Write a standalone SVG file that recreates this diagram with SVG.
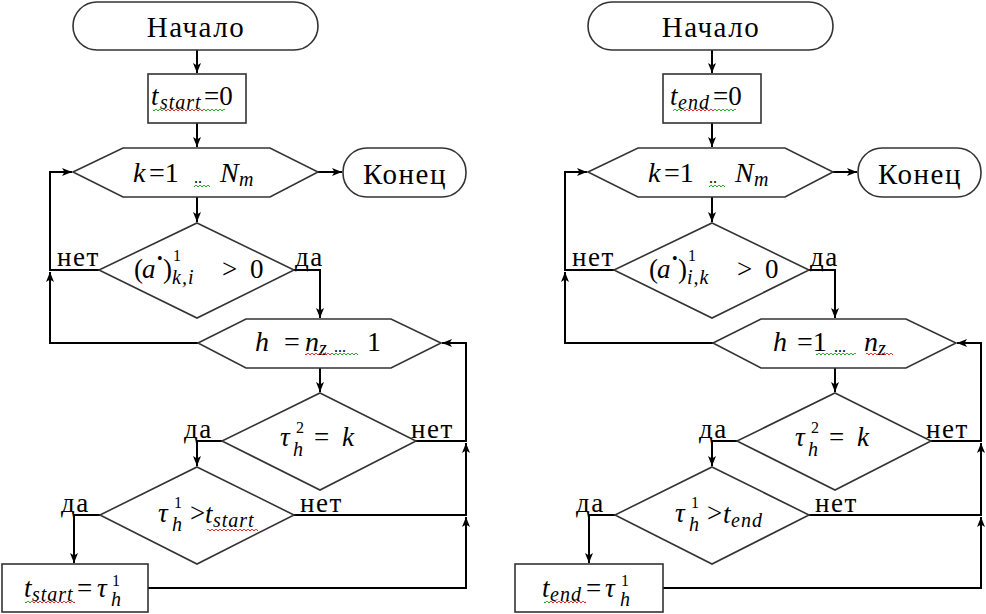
<svg xmlns="http://www.w3.org/2000/svg" width="986" height="614" viewBox="0 0 986 614">
<defs>
<marker id="ar" markerUnits="userSpaceOnUse" markerWidth="11" markerHeight="8" refX="10" refY="4" orient="auto">
<path d="M0,0 L10,4 L0,8 L2.5,4 z" fill="#000" stroke="none"/>
</marker>
<pattern id="wr" width="4" height="4" patternUnits="userSpaceOnUse"><path d="M0,0.8 L2,3 L4,0.8" fill="none" stroke="#e02020" stroke-width="1"/></pattern>
<pattern id="wg" width="4" height="4" patternUnits="userSpaceOnUse"><path d="M0,0.8 L2,3 L4,0.8" fill="none" stroke="#20a020" stroke-width="1"/></pattern>
<g id="chart-lines">
<path d="M197,50 V73"/>
<path d="M197,123 V147"/>
<path d="M318,172 H342"/>
<path d="M197,197 V222"/>
<path d="M198,343 H50 V272"/>
<path d="M99,270 H50 V172 H72"/>
<path d="M294,270 H320 V318"/>
<path d="M320,368 V392"/>
<path d="M148,588 H466 V517"/>
<path d="M294,515 H466 V443"/>
<path d="M416,441 H466 V343 H442"/>
<path d="M222,441 H197 V466"/>
<path d="M100,515 H74 V563"/>
</g>
</defs>
<rect width="986" height="614" fill="#fff"/>

<g id="left">
<g id="L-connectors">
<use href="#chart-lines" fill="none" stroke="#000" stroke-width="2" marker-end="url(#ar)"/>
<text font-family="Liberation Serif" font-size="27" letter-spacing="1.5" x="57" y="266">нет</text>
<text font-family="Liberation Serif" font-size="27" letter-spacing="1.5" x="295" y="266">да</text>
<text font-family="Liberation Serif" font-size="27" letter-spacing="1.5" x="184" y="438">да</text>
<text font-family="Liberation Serif" font-size="27" letter-spacing="1.5" x="411" y="438">нет</text>
<text font-family="Liberation Serif" font-size="27" letter-spacing="1.5" x="61" y="512">да</text>
<text font-family="Liberation Serif" font-size="27" letter-spacing="1.5" x="300" y="512">нет</text>
</g>
<g id="L-start">
<rect x="73" y="2" width="245" height="48" rx="24" fill="#fff" stroke="#333" stroke-width="1.6"/>
<text font-family="Liberation Serif" x="196" y="37" font-size="29" letter-spacing="1.5" text-anchor="middle">Начало</text>
</g>
<g id="L-init">
<rect x="148" y="74" width="98" height="49" fill="#fff" stroke="#333" stroke-width="1.6"/>
<text font-family="Liberation Serif" x="151" y="105" font-size="27" font-style="italic">t</text>
<text font-family="Liberation Serif" x="160" y="109" font-size="20" font-style="italic" letter-spacing="1">start</text>
<text font-family="Liberation Serif" x="204" y="105" font-size="27">=0</text>
<rect fill="url(#wg)" x="153" y="108" width="12" height="4"/>
<rect fill="url(#wr)" x="165" y="108" width="38" height="4"/>
<rect fill="url(#wg)" x="203" y="108" width="22" height="4"/>
</g>
<g id="L-loopk">
<polygon points="73,172 123,148 270,148 318,172 270,197 123,197" fill="#fff" stroke="#333" stroke-width="1.6"/>
<text font-family="Liberation Serif" x="133" y="182" font-size="28" font-style="italic">k</text>
<text font-family="Liberation Serif" x="149" y="182" font-size="28">=1</text>
<text font-family="Liberation Serif" x="194" y="183" font-size="16">..</text>
<text font-family="Liberation Serif" x="220" y="182" font-size="28" font-style="italic">N</text>
<text font-family="Liberation Serif" x="239" y="186" font-size="20" font-style="italic">m</text>
<rect fill="url(#wg)" x="194" y="184" width="16" height="4"/>
</g>
<g id="L-end">
<rect x="343" y="148" width="123" height="49" rx="24" fill="#fff" stroke="#333" stroke-width="1.6"/>
<text font-family="Liberation Serif" x="405" y="184" font-size="29" letter-spacing="1.5" text-anchor="middle">Конец</text>
</g>
<g id="L-cond1">
<polygon points="197,223 294,270 197,318 99,270" fill="#fff" stroke="#333" stroke-width="1.6"/>
<text font-family="Liberation Serif" x="134" y="278" font-size="27">(</text>
<text font-family="Liberation Serif" x="142" y="278" font-size="27" font-style="italic">a</text>
<text font-family="Liberation Serif" x="157" y="264" font-size="16">•</text>
<text font-family="Liberation Serif" x="163" y="278" font-size="27">)</text>
<text font-family="Liberation Serif" x="173" y="261" font-size="16">1</text>
<text font-family="Liberation Serif" x="172" y="284" font-size="20" font-style="italic" letter-spacing="1">k,i</text>
<text font-family="Liberation Serif" x="222" y="278" font-size="27">&gt;</text>
<text font-family="Liberation Serif" x="250" y="278" font-size="27">0</text>
</g>
<g id="L-looph">
<polygon points="198,343 246,319 391,319 441,343 391,368 246,368" fill="#fff" stroke="#333" stroke-width="1.6"/>
<text font-family="Liberation Serif" x="255" y="351" font-size="28" font-style="italic">h</text>
<text font-family="Liberation Serif" x="284" y="351" font-size="28">=</text>
<text font-family="Liberation Serif" x="305" y="351" font-size="28" font-style="italic">n</text>
<text font-family="Liberation Serif" x="319" y="355" font-size="20" font-style="italic">z</text>
<text font-family="Liberation Serif" x="334" y="352" font-size="16">...</text>
<text font-family="Liberation Serif" x="367" y="351" font-size="28">1</text>
<rect fill="url(#wr)" x="305" y="353" width="28" height="4"/>
<rect fill="url(#wg)" x="333" y="353" width="25" height="4"/>
</g>
<g id="L-cond2">
<polygon points="320,393 416,441 320,490 222,441" fill="#fff" stroke="#333" stroke-width="1.6"/>
<text font-family="Liberation Serif" x="280" y="446" font-size="27" font-style="italic">τ</text>
<text font-family="Liberation Serif" x="296" y="433" font-size="16">2</text>
<text font-family="Liberation Serif" x="293" y="456" font-size="20" font-style="italic">h</text>
<text font-family="Liberation Serif" x="314" y="446" font-size="27">=</text>
<text font-family="Liberation Serif" x="342" y="446" font-size="27" font-style="italic">k</text>
</g>
<g id="L-cond3">
<polygon points="197,467 294,515 197,564 100,515" fill="#fff" stroke="#333" stroke-width="1.6"/>
<text font-family="Liberation Serif" x="158" y="522" font-size="27" font-style="italic">τ</text>
<text font-family="Liberation Serif" x="174" y="508" font-size="16">1</text>
<text font-family="Liberation Serif" x="172" y="531" font-size="20" font-style="italic">h</text>
<text font-family="Liberation Serif" x="190" y="522" font-size="27">&gt;</text>
<text font-family="Liberation Serif" x="205" y="523" font-size="27" font-style="italic">t</text>
<text font-family="Liberation Serif" x="213" y="527" font-size="20" font-style="italic" letter-spacing="1">start</text>
<rect fill="url(#wr)" x="207" y="529" width="51" height="4"/>
</g>
<g id="L-assign">
<rect x="2" y="564" width="146" height="48" fill="#fff" stroke="#333" stroke-width="1.6"/>
<text font-family="Liberation Serif" x="24" y="597" font-size="27" font-style="italic">t</text>
<text font-family="Liberation Serif" x="32" y="601" font-size="20" font-style="italic" letter-spacing="1">start</text>
<text font-family="Liberation Serif" x="77" y="597" font-size="27">=</text>
<text font-family="Liberation Serif" x="97" y="597" font-size="27" font-style="italic">τ</text>
<text font-family="Liberation Serif" x="112" y="586" font-size="16">1</text>
<text font-family="Liberation Serif" x="111" y="606" font-size="20" font-style="italic">h</text>
<rect fill="url(#wg)" x="25" y="600" width="8" height="4"/>
<rect fill="url(#wr)" x="33" y="600" width="42" height="4"/>
</g>
</g>

<g id="right" transform="translate(515,0)">
<g id="R-connectors">
<use href="#chart-lines" fill="none" stroke="#000" stroke-width="2" marker-end="url(#ar)"/>
<text font-family="Liberation Serif" font-size="27" letter-spacing="1.5" x="57" y="266">нет</text>
<text font-family="Liberation Serif" font-size="27" letter-spacing="1.5" x="295" y="266">да</text>
<text font-family="Liberation Serif" font-size="27" letter-spacing="1.5" x="184" y="438">да</text>
<text font-family="Liberation Serif" font-size="27" letter-spacing="1.5" x="411" y="438">нет</text>
<text font-family="Liberation Serif" font-size="27" letter-spacing="1.5" x="61" y="512">да</text>
<text font-family="Liberation Serif" font-size="27" letter-spacing="1.5" x="300" y="512">нет</text>
</g>
<g id="R-start">
<rect x="73" y="2" width="245" height="48" rx="24" fill="#fff" stroke="#333" stroke-width="1.6"/>
<text font-family="Liberation Serif" x="196" y="37" font-size="29" letter-spacing="1.5" text-anchor="middle">Начало</text>
</g>
<g id="R-init">
<rect x="148" y="74" width="98" height="49" fill="#fff" stroke="#333" stroke-width="1.6"/>
<text font-family="Liberation Serif" x="155" y="105" font-size="27" font-style="italic">t</text>
<text font-family="Liberation Serif" x="163" y="109" font-size="20" font-style="italic" letter-spacing="1">end</text>
<text font-family="Liberation Serif" x="198" y="105" font-size="27">=0</text>
<rect fill="url(#wg)" x="158" y="108" width="10" height="4"/>
<rect fill="url(#wr)" x="168" y="108" width="30" height="4"/>
<rect fill="url(#wg)" x="198" y="108" width="23" height="4"/>
</g>
<g id="R-loopk">
<polygon points="73,172 123,148 270,148 318,172 270,197 123,197" fill="#fff" stroke="#333" stroke-width="1.6"/>
<text font-family="Liberation Serif" x="133" y="182" font-size="28" font-style="italic">k</text>
<text font-family="Liberation Serif" x="149" y="182" font-size="28">=1</text>
<text font-family="Liberation Serif" x="194" y="183" font-size="16">..</text>
<text font-family="Liberation Serif" x="220" y="182" font-size="28" font-style="italic">N</text>
<text font-family="Liberation Serif" x="239" y="186" font-size="20" font-style="italic">m</text>
<rect fill="url(#wg)" x="194" y="184" width="16" height="4"/>
</g>
<g id="R-end">
<rect x="343" y="148" width="123" height="49" rx="24" fill="#fff" stroke="#333" stroke-width="1.6"/>
<text font-family="Liberation Serif" x="405" y="184" font-size="29" letter-spacing="1.5" text-anchor="middle">Конец</text>
</g>
<g id="R-cond1">
<polygon points="197,223 294,270 197,318 99,270" fill="#fff" stroke="#333" stroke-width="1.6"/>
<text font-family="Liberation Serif" x="134" y="278" font-size="27">(</text>
<text font-family="Liberation Serif" x="142" y="278" font-size="27" font-style="italic">a</text>
<text font-family="Liberation Serif" x="157" y="264" font-size="16">•</text>
<text font-family="Liberation Serif" x="163" y="278" font-size="27">)</text>
<text font-family="Liberation Serif" x="173" y="261" font-size="16">1</text>
<text font-family="Liberation Serif" x="172" y="284" font-size="20" font-style="italic" letter-spacing="1">i,k</text>
<text font-family="Liberation Serif" x="222" y="278" font-size="27">&gt;</text>
<text font-family="Liberation Serif" x="250" y="278" font-size="27">0</text>
</g>
<g id="R-looph">
<polygon points="198,343 246,319 391,319 441,343 391,368 246,368" fill="#fff" stroke="#333" stroke-width="1.6"/>
<text font-family="Liberation Serif" x="258" y="351" font-size="28" font-style="italic">h</text>
<text font-family="Liberation Serif" x="282" y="351" font-size="28">=1</text>
<text font-family="Liberation Serif" x="319" y="352" font-size="16">...</text>
<text font-family="Liberation Serif" x="349" y="351" font-size="28" font-style="italic">n</text>
<text font-family="Liberation Serif" x="363" y="355" font-size="20" font-style="italic">z</text>
<rect fill="url(#wg)" x="301" y="353" width="40" height="4"/>
<rect fill="url(#wr)" x="351" y="353" width="27" height="4"/>
</g>
<g id="R-cond2">
<polygon points="320,393 416,441 320,490 222,441" fill="#fff" stroke="#333" stroke-width="1.6"/>
<text font-family="Liberation Serif" x="280" y="446" font-size="27" font-style="italic">τ</text>
<text font-family="Liberation Serif" x="296" y="433" font-size="16">2</text>
<text font-family="Liberation Serif" x="293" y="456" font-size="20" font-style="italic">h</text>
<text font-family="Liberation Serif" x="314" y="446" font-size="27">=</text>
<text font-family="Liberation Serif" x="342" y="446" font-size="27" font-style="italic">k</text>
</g>
<g id="R-cond3">
<polygon points="197,467 294,515 197,564 100,515" fill="#fff" stroke="#333" stroke-width="1.6"/>
<text font-family="Liberation Serif" x="160" y="522" font-size="27" font-style="italic">τ</text>
<text font-family="Liberation Serif" x="176" y="508" font-size="16">1</text>
<text font-family="Liberation Serif" x="174" y="531" font-size="20" font-style="italic">h</text>
<text font-family="Liberation Serif" x="192" y="522" font-size="27">&gt;</text>
<text font-family="Liberation Serif" x="208" y="523" font-size="27" font-style="italic">t</text>
<text font-family="Liberation Serif" x="216" y="527" font-size="20" font-style="italic" letter-spacing="1">end</text>
</g>
<g id="R-assign">
<rect x="0" y="564" width="148" height="48" fill="#fff" stroke="#333" stroke-width="1.6"/>
<text font-family="Liberation Serif" x="27" y="597" font-size="27" font-style="italic">t</text>
<text font-family="Liberation Serif" x="35" y="601" font-size="20" font-style="italic" letter-spacing="1">end</text>
<text font-family="Liberation Serif" x="71" y="597" font-size="27">=</text>
<text font-family="Liberation Serif" x="90" y="597" font-size="27" font-style="italic">τ</text>
<text font-family="Liberation Serif" x="106" y="586" font-size="16">1</text>
<text font-family="Liberation Serif" x="105" y="606" font-size="20" font-style="italic">h</text>
<rect fill="url(#wg)" x="29" y="600" width="5" height="4"/>
<rect fill="url(#wr)" x="34" y="600" width="37" height="4"/>
</g>
</g>
</svg>
